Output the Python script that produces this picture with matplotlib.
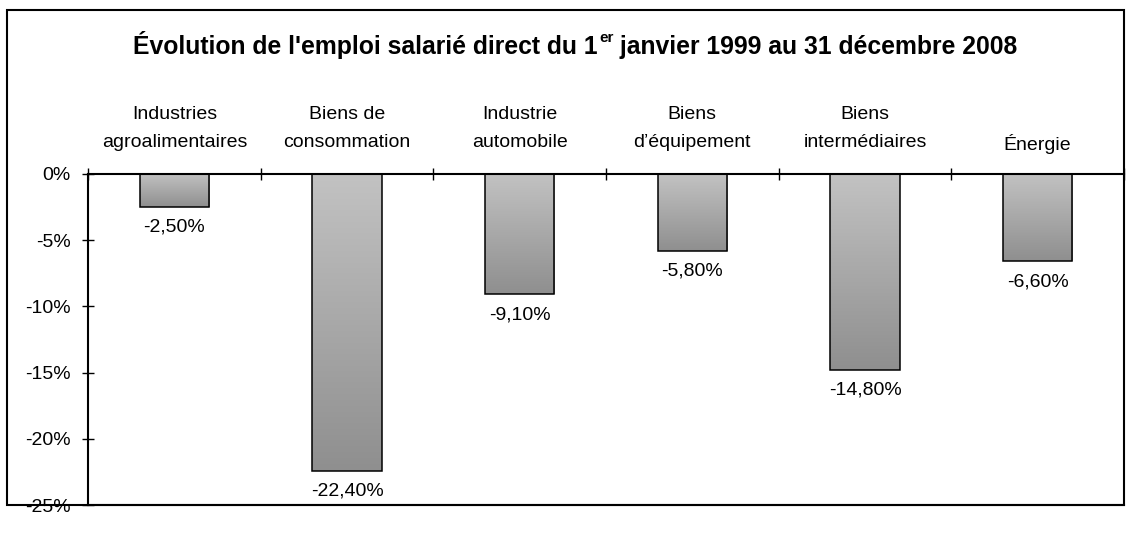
import numpy as np
import matplotlib
matplotlib.use('Agg')
import matplotlib.pyplot as plt
from matplotlib.patches import Rectangle
from matplotlib.colors import LinearSegmentedColormap
from matplotlib.ticker import FuncFormatter

plt.rcParams['font.family'] = ['Liberation Sans', 'DejaVu Sans']

categories = ['Industries\nagroalimentaires', 'Biens de\nconsommation', 'Industrie\nautomobile',
              'Biens\nd\u2019équipement', 'Biens\nintermédiaires', 'Énergie']
values = [-2.5, -22.4, -9.1, -5.8, -14.8, -6.6]
value_labels = ['-2,50%', '-22,40%', '-9,10%', '-5,80%', '-14,80%', '-6,60%']
yticks = [0, -5, -10, -15, -20, -25]

W, H = 1136, 534
fig = plt.figure(figsize=(W / 100, H / 100), dpi=100)
ax = fig.add_axes([88 / W, 1 - 505 / H, (1124 - 88) / W, (505 - 174) / H])

# outer frame
fig.patches.append(Rectangle((7 / W, 1 - 505 / H), (1124 - 7) / W, (505 - 10) / H,
                             transform=fig.transFigure, fill=False, edgecolor='black',
                             linewidth=1.5, zorder=0))

grad = LinearSegmentedColormap.from_list('g', ['#c2c2c2', '#8f8f8f'])
x = np.arange(len(values))
bars = ax.bar(x, values, width=0.4, color='none', edgecolor='black', linewidth=1.1, zorder=3)
for b in bars:
    x0, y0 = b.get_x(), b.get_y()
    w, h = b.get_width(), b.get_height()
    im = ax.imshow(np.linspace(0, 1, 100).reshape(-1, 1), cmap=grad, aspect='auto',
                   extent=[x0, x0 + w, y0 + h, y0], origin='upper', zorder=2)
    im.set_clip_path(b)

for xi, v, lab in zip(x, values, value_labels):
    ax.annotate(lab, (xi, v), xytext=(0, -14.5), textcoords='offset points',
                ha='center', va='center', fontsize=14)

for xi, c in zip(x, categories):
    if '\n' not in c:
        c = '\n' + c
    ax.text(xi, 1.137, c, transform=ax.get_xaxis_transform(), ha='center', va='center',
            fontsize=14, linespacing=1.8)

ax.set_xlim(-0.5, len(values) - 0.5)
ax.set_ylim(-25, 0)
ax.set_yticks(yticks)
ax.yaxis.set_major_formatter(FuncFormatter(lambda v, p: f'{v:.0f}%'))
ax.tick_params(axis='y', direction='inout', length=8.6, width=1, labelsize=14, pad=8)
ax.set_xticks(np.arange(len(values) + 1) - 0.5)
ax.xaxis.tick_top()
ax.tick_params(axis='x', direction='inout', length=8.6, width=1, labeltop=False, labelbottom=False)
for s in ['left', 'top']:
    ax.spines[s].set_linewidth(1.5)
ax.spines['right'].set_visible(False)
ax.spines['bottom'].set_linewidth(1.5)
ax.spines['bottom'].set_color('#333333')

# title with superscript
ty = 1 - 54 / H
t1 = fig.text(133 / W, ty, "Évolution de l'emploi salarié direct du 1", fontsize=17.8,
              fontweight='bold', va='baseline', ha='left')
t2 = plt.annotate('er', xy=(1, ty), xycoords=(t1, 'figure fraction'), xytext=(1, 8.5),
                  textcoords='offset points', fontsize=11, fontweight='bold',
                  va='baseline', ha='left', annotation_clip=False)
t3 = plt.annotate(' janvier 1999 au 31 décembre 2008', xy=(1, ty), xycoords=(t2, 'figure fraction'),
                  xytext=(0, 0), textcoords='offset points', fontsize=17.8, fontweight='bold',
                  va='baseline', ha='left', annotation_clip=False)

fig.savefig('out.png', dpi=100)
